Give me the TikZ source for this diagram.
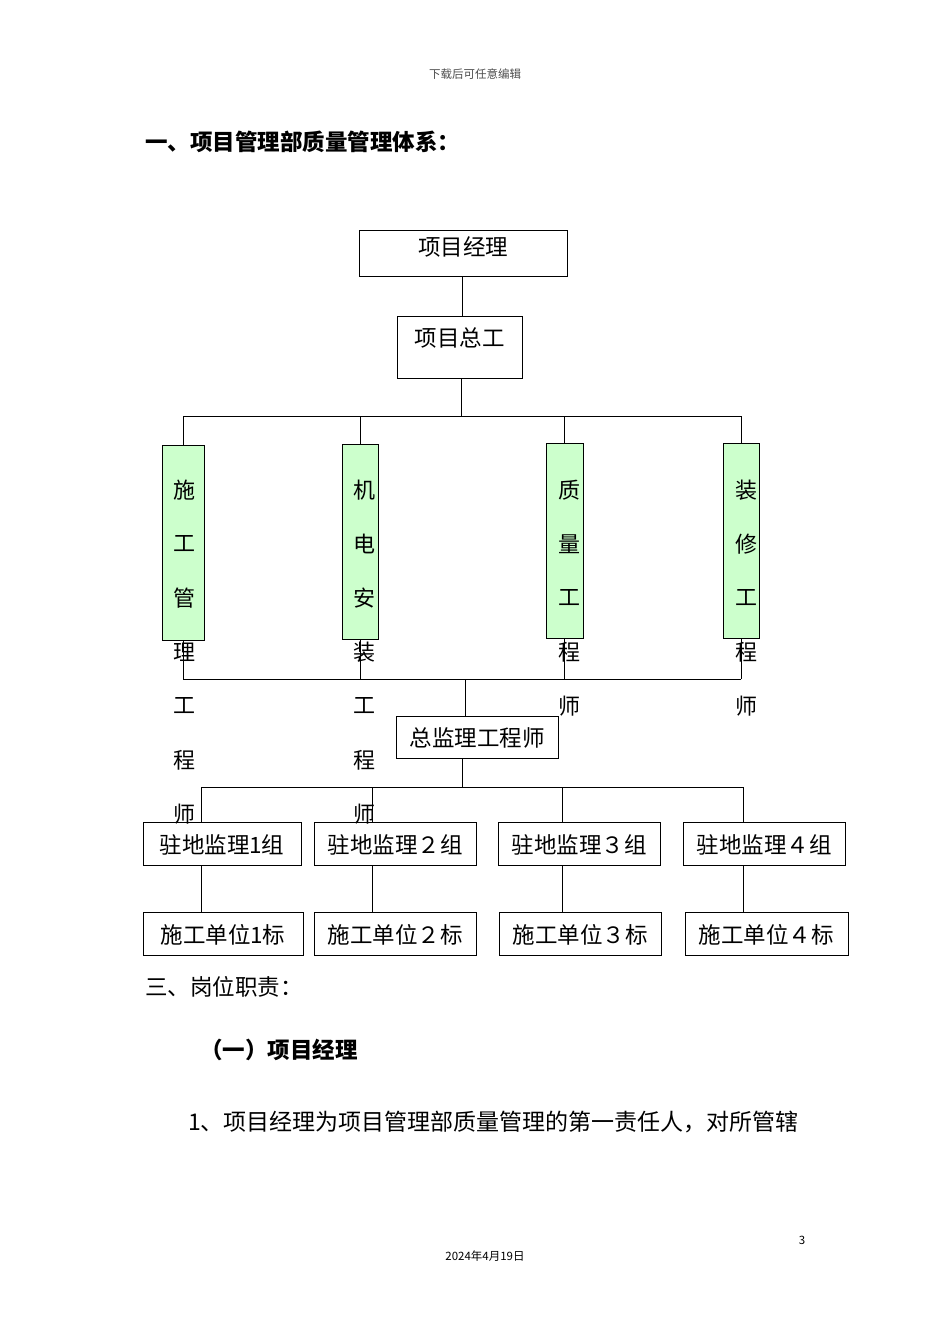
\documentclass[tikz,border=0pt]{standalone}
\usepackage{fontspec}
\setmainfont{Noto Sans CJK SC}
\definecolor{lgreen}{HTML}{CCFFCC}
\begin{document}
\begin{tikzpicture}[x=1pt,y=-1pt,
  bx/.style={draw,line width=0.8pt,inner sep=0pt},
  gbx/.style={draw,line width=0.8pt,fill=lgreen,inner sep=0pt},
  ln/.style={line width=0.8pt},
  txt/.style={font=\fontsize{22.5}{22.5}\selectfont,inner sep=0pt},
  vt/.style={font=\fontsize{22}{22}\selectfont,inner sep=0pt}]
\useasboundingbox (0,0) rectangle (950,1344);
\node[font=\fontsize{11.5}{11.5}\selectfont,text=black!70] (hd) at (475,74) {下载后可任意编辑};
\node[txt,anchor=west,font=\fontsize{22.5}{22.5}\selectfont\bfseries] (t1) at (145,142) {一、项目管理部质量管理体系：};
% top boxes
\node[bx,minimum width=208,minimum height=46] (pm) at (463,253) {};
\node[txt] at (463,247) {项目经理};
\node[bx,minimum width=125,minimum height=62] (ce) at (459.5,347) {};
\node[txt] at (459.5,338) {项目总工};
\coordinate (c1) at (462,276);
\draw[ln] (c1) -- (c1 |- ce.north);
\coordinate (bus1) at (461,416);
\draw[ln] (bus1 |- ce.south) -- (bus1);
\draw[ln] (183,416) -- (741,416);
% green boxes
\node[gbx,minimum width=42,minimum height=195] (g1) at (183,542.5) {};
\node[gbx,minimum width=36,minimum height=195] (g2) at (360,541.5) {};
\node[gbx,minimum width=37,minimum height=195] (g3) at (564.5,540.5) {};
\node[gbx,minimum width=36,minimum height=195] (g4) at (741,540.5) {};
\foreach \g in {g1,g2,g3,g4}{\draw[ln] (\g.north) -- (\g.north |- bus1);}
\foreach \c [count=\i from 0] in {施,工,管,理,工,程,师}{\node[vt] at (184,490+54*\i) {\c};}
\foreach \c [count=\i from 0] in {机,电,安,装,工,程,师}{\node[vt] at (364,490+54*\i) {\c};}
\foreach \c [count=\i from 0] in {质,量,工,程,师}{\node[vt] at (569,490+54*\i) {\c};}
\foreach \c [count=\i from 0] in {装,修,工,程,师}{\node[vt] at (746,490+54*\i) {\c};}
\coordinate (bus2) at (465,679);
\draw[ln] (183,679) -- (741,679);
\foreach \g in {g1,g2,g3,g4}{\draw[ln] (\g.south) -- (\g.south |- bus2);}
\node[bx,minimum width=162,minimum height=42] (zj) at (477,737) {};
\node[txt] at (477,738) {总监理工程师};
\draw[ln] (bus2) -- (bus2 |- zj.north);
\coordinate (bus3) at (462,787);
\draw[ln] (bus3 |- zj.south) -- (bus3);
\draw[ln] (201,787) -- (743,787);
% row 1
\node[bx,minimum width=158,minimum height=43] (r1) at (222,843.5) {};
\node[bx,minimum width=162,minimum height=43] (r2) at (395,843.5) {};
\node[bx,minimum width=162,minimum height=43] (r3) at (579,843.5) {};
\node[bx,minimum width=162,minimum height=43] (r4) at (764,843.5) {};
\node[txt] at (222,845) {驻地监理1组};
\node[txt] at (395,845) {驻地监理２组};
\node[txt] at (579,845) {驻地监理３组};
\node[txt] at (764,845) {驻地监理４组};
\node[bx,minimum width=160,minimum height=43] (s1) at (223,933.5) {};
\node[bx,minimum width=162,minimum height=43] (s2) at (395,933.5) {};
\node[bx,minimum width=162,minimum height=43] (s3) at (580,933.5) {};
\node[bx,minimum width=163,minimum height=43] (s4) at (766.5,933.5) {};
\node[txt] at (223,935) {施工单位1标};
\node[txt] at (395,935) {施工单位２标};
\node[txt] at (580,935) {施工单位３标};
\node[txt] at (766,935) {施工单位４标};
\foreach \x in {201,372,562,743}{
  \draw[ln] (\x,787) -- (\x,822);
  \draw[ln] (\x,865) -- (\x,912);}
\node[txt,anchor=west] (t2) at (145,987) {三、岗位职责：};
\node[txt,anchor=west,font=\fontsize{22.5}{22.5}\selectfont\bfseries] (t3) at (200,1050) {（一）项目经理};
\node[txt,anchor=west,font=\fontsize{23}{23}\selectfont] (t4) at (188,1122) {1、项目经理为项目管理部质量管理的第一责任人，对所管辖};
\node[font=\fontsize{11.5}{11.5}\selectfont] (pg) at (802,1240) {3};
\node[font=\fontsize{11.5}{11.5}\selectfont] (dt) at (485,1256) {2024年4月19日};
\end{tikzpicture}
\end{document}
